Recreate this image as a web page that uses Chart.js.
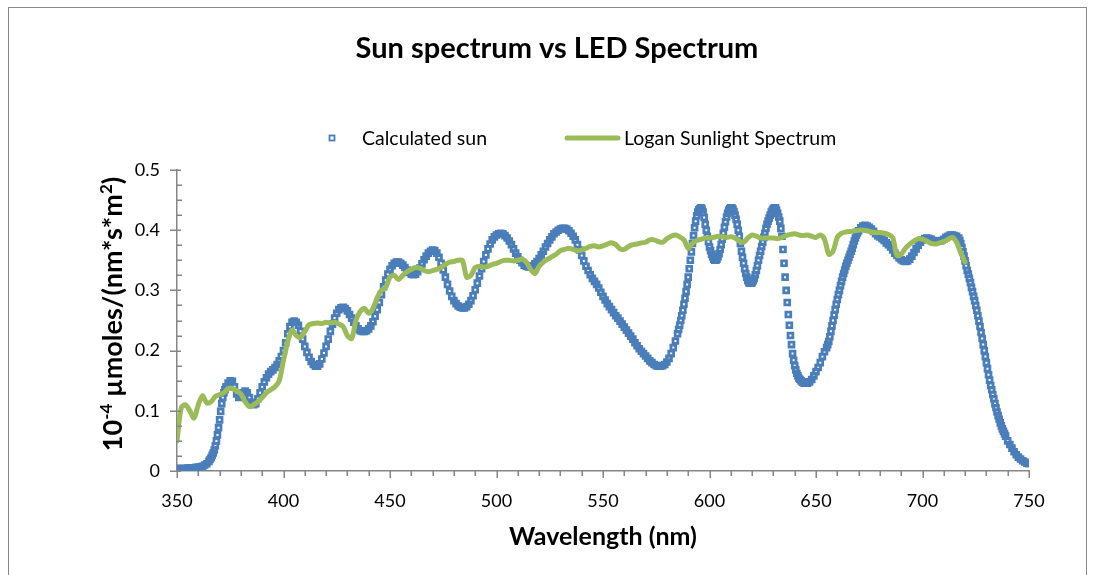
<!DOCTYPE html>
<html><head><meta charset="utf-8">
<script src="https://cdn.jsdelivr.net/npm/chart.js@4.4.0/dist/chart.umd.min.js"></script>
<style>
html,body{margin:0;padding:0;background:#fff;}
#wrap{position:relative;width:1096px;height:575px;overflow:hidden;background:#fff;}
#frame{position:absolute;left:8px;top:7px;width:1079px;height:620px;border:1px solid #8a8a8a;box-sizing:border-box;}
canvas{position:absolute;left:0;top:0;}
</style></head><body>
<div id="wrap"><div id="frame"></div><canvas id="c" width="1096" height="575"></canvas></div>
<script>
// ---------- text ----------
const titleText = 'Sun spectrum vs LED Spectrum';
const xTitle = 'Wavelength (nm)';
// y title pieces: [text, isSuperscript]  ->  10^-4 µmoles/(nm*s*m^2)
const yTitleParts = [['10', false], ['-4', true], [' \u00B5moles/(nm*s*m', false], ['2', true], [')', false]];
const seriesNames = ['Calculated sun', 'Logan Sunlight Spectrum'];
// ---------- ticks ----------
const xTicks = [350, 400, 450, 500, 550, 600, 650, 700, 750];
const yTicks = [0, 0.1, 0.2, 0.3, 0.4, 0.5];
// ---------- Calculated sun (1 nm steps from 350 nm) ----------
const calcStart = 350, calcStep = 1;
const calcSun = [
0.004,0.004,0.004,0.004,0.004,0.005,0.005,0.005,0.005,0.006,
0.006,0.007,0.008,0.010,0.012,0.016,0.022,0.030,0.042,0.060,
0.085,0.112,0.130,0.140,0.146,0.150,0.149,0.140,0.128,0.122,
0.124,0.130,0.133,0.130,0.122,0.114,0.110,0.112,0.120,0.130,
0.140,0.148,0.155,0.161,0.165,0.168,0.172,0.177,0.183,0.190,
0.200,0.213,0.228,0.240,0.247,0.249,0.247,0.242,0.232,0.219,
0.207,0.197,0.189,0.182,0.177,0.174,0.174,0.178,0.186,0.196,
0.207,0.219,0.232,0.244,0.254,0.262,0.268,0.271,0.272,0.270,
0.266,0.260,0.254,0.247,0.241,0.236,0.233,0.232,0.232,0.233,
0.236,0.241,0.248,0.257,0.268,0.280,0.293,0.306,0.317,0.327,
0.335,0.341,0.345,0.347,0.347,0.345,0.342,0.338,0.334,0.330,
0.327,0.326,0.327,0.331,0.337,0.344,0.351,0.357,0.362,0.365,
0.367,0.366,0.362,0.355,0.345,0.334,0.322,0.310,0.299,0.290,
0.283,0.278,0.274,0.272,0.271,0.271,0.273,0.277,0.283,0.291,
0.301,0.312,0.324,0.336,0.348,0.359,0.369,0.377,0.384,0.389,
0.392,0.394,0.395,0.394,0.391,0.387,0.382,0.376,0.369,0.362,
0.356,0.350,0.346,0.342,0.340,0.339,0.339,0.341,0.344,0.348,
0.353,0.359,0.365,0.372,0.378,0.384,0.389,0.394,0.397,0.400,
0.402,0.403,0.403,0.402,0.399,0.395,0.390,0.384,0.376,0.367,
0.358,0.349,0.340,0.333,0.326,0.320,0.315,0.310,0.304,0.297,
0.290,0.284,0.278,0.273,0.268,0.263,0.258,0.254,0.249,0.244,
0.239,0.234,0.229,0.224,0.219,0.213,0.208,0.203,0.199,0.195,
0.191,0.187,0.183,0.180,0.177,0.175,0.174,0.174,0.175,0.177,
0.181,0.187,0.195,0.205,0.216,0.228,0.242,0.258,0.277,0.298,
0.322,0.350,0.378,0.404,0.424,0.434,0.437,0.430,0.410,0.390,
0.372,0.360,0.352,0.350,0.356,0.368,0.385,0.405,0.422,0.433,
0.437,0.435,0.425,0.410,0.390,0.365,0.345,0.328,0.316,0.312,
0.313,0.320,0.333,0.350,0.365,0.380,0.395,0.410,0.420,0.430,
0.436,0.437,0.428,0.415,0.390,0.345,0.300,0.260,0.225,0.195,
0.175,0.162,0.154,0.150,0.147,0.146,0.146,0.148,0.152,0.158,
0.165,0.172,0.180,0.190,0.198,0.205,0.215,0.232,0.250,0.268,
0.285,0.300,0.315,0.328,0.340,0.350,0.360,0.370,0.382,0.392,
0.399,0.404,0.407,0.408,0.407,0.405,0.402,0.398,0.394,0.391,
0.389,0.386,0.383,0.379,0.376,0.372,0.367,0.362,0.358,0.354,
0.351,0.349,0.348,0.349,0.352,0.357,0.363,0.369,0.375,0.380,
0.384,0.386,0.387,0.386,0.385,0.383,0.382,0.382,0.382,0.383,
0.385,0.388,0.390,0.392,0.392,0.391,0.390,0.387,0.378,0.364,
0.349,0.333,0.320,0.305,0.290,0.275,0.258,0.240,0.220,0.200,
0.180,0.160,0.142,0.127,0.112,0.098,0.086,0.075,0.066,0.058,
0.050,0.044,0.038,0.032,0.027,0.023,0.020,0.017,0.015,0.013,
0.012
];
// extra half-nm readings on the steep flanks: [wavelength, value]
const calcSunHalf = [
[365.5,0.019],[366.5,0.026],[367.5,0.035],[368.5,0.050],[369.5,0.072],[370.5,0.099],[371.5,0.122],[372.5,0.135],
[585.5,0.235],[586.5,0.250],[587.5,0.267],[588.5,0.287],[589.5,0.310],[590.5,0.336],[591.5,0.364],[592.5,0.391],
[593.5,0.415],[594.5,0.430],[595.5,0.436],[596.5,0.435],[597.5,0.421],[598.5,0.400],[599.5,0.381],[600.5,0.366],
[601.5,0.356],[602.5,0.350],[603.5,0.352],[604.5,0.361],[605.5,0.376],[606.5,0.395],[607.5,0.414],[608.5,0.428],
[609.5,0.436],[610.5,0.437],[611.5,0.431],[612.5,0.418],[613.5,0.400],[614.5,0.378],[615.5,0.355],[616.5,0.336],
[617.5,0.322],[618.5,0.313],[619.5,0.312],[620.5,0.316],[621.5,0.326],[622.5,0.341],[623.5,0.358],[624.5,0.373],
[625.5,0.388],[626.5,0.403],[627.5,0.415],[628.5,0.425],[629.5,0.433],[630.5,0.437],[631.5,0.433],[632.5,0.422],
[633.5,0.403],[634.5,0.368],[635.5,0.322],[636.5,0.280],[637.5,0.242],[638.5,0.210],[639.5,0.184],[640.5,0.168],
[641.5,0.158],[642.5,0.152],[643.5,0.148],[644.5,0.146],[645.5,0.146],
[655.5,0.210],[656.5,0.223],[657.5,0.241],[658.5,0.259],[659.5,0.277],[660.5,0.293],[661.5,0.308],[662.5,0.322],
[663.5,0.334],[664.5,0.345],[665.5,0.355],[666.5,0.365],[667.5,0.376],[668.5,0.387],[669.5,0.396],
[717.5,0.383],[718.5,0.371],[719.5,0.357],[720.5,0.341],[721.5,0.327],[722.5,0.313],[723.5,0.298],[724.5,0.283],
[725.5,0.267],[726.5,0.249],[727.5,0.230],[728.5,0.210],[729.5,0.190],[730.5,0.170],[731.5,0.151],[732.5,0.135],
[733.5,0.120],[734.5,0.105],[735.5,0.092],[736.5,0.080],[737.5,0.070],[738.5,0.062]
];
// ---------- Logan Sunlight Spectrum (2 nm steps from 350 nm) ----------
const loganStart = 350, loganStep = 2;
const loganSun = [
0.050,0.105,0.110,0.100,0.088,0.110,0.125,0.113,0.115,0.124,
0.127,0.130,0.137,0.137,0.133,0.128,0.115,0.107,0.110,0.115,
0.122,0.130,0.135,0.140,0.150,0.184,0.215,0.234,0.225,0.222,
0.232,0.243,0.245,0.246,0.245,0.247,0.246,0.247,0.244,0.240,
0.225,0.220,0.250,0.265,0.270,0.262,0.270,0.288,0.300,0.305,
0.322,0.325,0.318,0.325,0.331,0.335,0.338,0.337,0.333,0.331,
0.333,0.335,0.338,0.343,0.347,0.348,0.350,0.350,0.322,0.325,
0.338,0.340,0.339,0.340,0.343,0.345,0.348,0.350,0.350,0.349,
0.350,0.352,0.347,0.335,0.328,0.340,0.347,0.352,0.356,0.360,
0.366,0.368,0.370,0.368,0.366,0.367,0.370,0.373,0.374,0.372,
0.374,0.377,0.379,0.376,0.369,0.368,0.373,0.376,0.377,0.379,
0.380,0.384,0.384,0.381,0.380,0.386,0.390,0.392,0.389,0.384,
0.370,0.378,0.383,0.385,0.387,0.387,0.388,0.390,0.389,0.388,
0.389,0.387,0.382,0.380,0.387,0.392,0.390,0.387,0.387,0.387,
0.387,0.386,0.388,0.391,0.393,0.394,0.392,0.391,0.392,0.390,
0.388,0.392,0.385,0.360,0.365,0.388,0.395,0.397,0.398,0.399,
0.400,0.400,0.399,0.397,0.396,0.396,0.395,0.393,0.388,0.358,
0.360,0.370,0.377,0.382,0.386,0.385,0.382,0.378,0.377,0.379,
0.381,0.385,0.388,0.380,0.362,0.347
];

// ---------- build datasets ----------
const BLUE = '#4A7EBB', GREEN = '#9BBB59', AXIS = '#868686';
const FONT = 'Lato, "Open Sans", "DejaVu Sans", sans-serif';
const calcPts = calcSun.map((v, i) => ({x: calcStart + i * calcStep, y: v}))
  .concat(calcSunHalf.map(p => ({x: p[0], y: p[1]})))
  .sort((a, b) => a.x - b.x);
const loganPts = loganSun.map((v, i) => ({x: loganStart + i * loganStep, y: v}));

function drawParts(ctx, parts, cx, cy, size, supSize) {
  const fonts = parts.map(p => 'bold ' + (p[1] ? supSize : size) + 'px ' + FONT);
  let total = 0;
  const widths = parts.map((p, i) => { ctx.font = fonts[i]; const w = ctx.measureText(p[0]).width; total += w; return w; });
  let x = cx - total / 2;
  ctx.textAlign = 'left'; ctx.textBaseline = 'alphabetic';
  parts.forEach((p, i) => {
    ctx.font = fonts[i];
    ctx.fillText(p[0], x, cy + size * 0.36 - (p[1] ? size * 0.36 : 0));
    x += widths[i];
  });
}

const decor = {
  id: 'decor',
  afterDraw(chart) {
    const ctx = chart.ctx, xs = chart.scales.x, ys = chart.scales.y;
    const ca = chart.chartArea;
    ctx.save();
    // tick marks
    ctx.strokeStyle = AXIS; ctx.lineWidth = 1.5;
    ctx.beginPath();
    for (let v = 350; v <= 750; v += 10) {
      const px = Math.round(xs.getPixelForValue(v)) + 0.25;
      const major = (v % 50 === 0);
      ctx.moveTo(px, ca.bottom); ctx.lineTo(px, ca.bottom + (major ? 7 : 5));
    }
    for (let k = 0; k <= 20; k++) {
      const v = k * 0.025;
      const py = Math.round(ys.getPixelForValue(v)) + 0.25;
      if (k % 4 === 0) { ctx.moveTo(ca.left - 7, py); ctx.lineTo(ca.left + 4, py); }
      else { ctx.moveTo(ca.left, py); ctx.lineTo(ca.left + 5, py); }
    }
    ctx.stroke();
    ctx.fillStyle = '#000';
    // title
    ctx.font = 'bold 29px ' + FONT;
    ctx.textAlign = 'center'; ctx.textBaseline = 'middle';
    ctx.fillText(titleText, 557, 49);
    // x title
    ctx.font = 'bold 25px ' + FONT;
    ctx.fillText(xTitle, 603, 537);
    // y title
    ctx.save();
    ctx.translate(112, 314); ctx.rotate(-Math.PI / 2);
    drawParts(ctx, yTitleParts, 0, 0, 27, 17);
    ctx.restore();
    // legend
    ctx.font = '19.5px ' + FONT;
    ctx.textAlign = 'left'; ctx.textBaseline = 'middle';
    ctx.strokeStyle = BLUE; ctx.lineWidth = 1.8;
    ctx.strokeRect(329.5, 135.5, 5, 5);
    ctx.fillText(seriesNames[0], 362, 139);
    ctx.strokeStyle = GREEN; ctx.lineWidth = 5; ctx.lineCap = 'round';
    ctx.beginPath(); ctx.moveTo(567, 138); ctx.lineTo(618, 138); ctx.stroke();
    ctx.fillText(seriesNames[1], 624, 139);
    ctx.restore();
  }
};

new Chart(document.getElementById('c'), {
  type: 'line',
  data: {
    datasets: [
      {
        label: seriesNames[0], data: calcPts, showLine: false, order: 1,
        pointStyle: 'rect', pointRadius: 3.4, pointBorderWidth: 2.8,
        pointBorderColor: BLUE, pointBackgroundColor: 'rgba(0,0,0,0)', borderColor: BLUE,
        pointHoverRadius: 3.4
      },
      {
        label: seriesNames[1], data: loganPts, order: 0,
        borderColor: GREEN, borderWidth: 5, pointRadius: 0, tension: 0.3,
        borderCapStyle: 'round', borderJoinStyle: 'round', fill: false
      }
    ]
  },
  options: {
    responsive: false, animation: false, devicePixelRatio: 1,
    layout: { padding: { left: 0, top: 170, right: 67, bottom: 0 } },
    plugins: { legend: { display: false }, title: { display: false }, tooltip: { enabled: false } },
    events: [],
    scales: {
      x: {
        type: 'linear', min: 350, max: 750,
        afterFit: s => { s.height = 104; },
        afterBuildTicks: s => { s.ticks = xTicks.map(v => ({value: v})); },
        grid: { display: false, drawTicks: false },
        border: { display: true, color: AXIS, width: 1.5 },
        ticks: { padding: 19, color: '#000', font: { family: FONT, size: 18 }, maxRotation: 0, autoSkip: false }
      },
      y: {
        type: 'linear', min: 0, max: 0.5,
        afterFit: s => { s.width = 177; },
        afterBuildTicks: s => { s.ticks = yTicks.map(v => ({value: v})); },
        grid: { display: false, drawTicks: false },
        border: { display: true, color: AXIS, width: 1.5 },
        ticks: { padding: 17, color: '#000', font: { family: FONT, size: 18 },
                 callback: v => String(v) }
      }
    }
  },
  plugins: [decor]
});
</script>
</body></html>
